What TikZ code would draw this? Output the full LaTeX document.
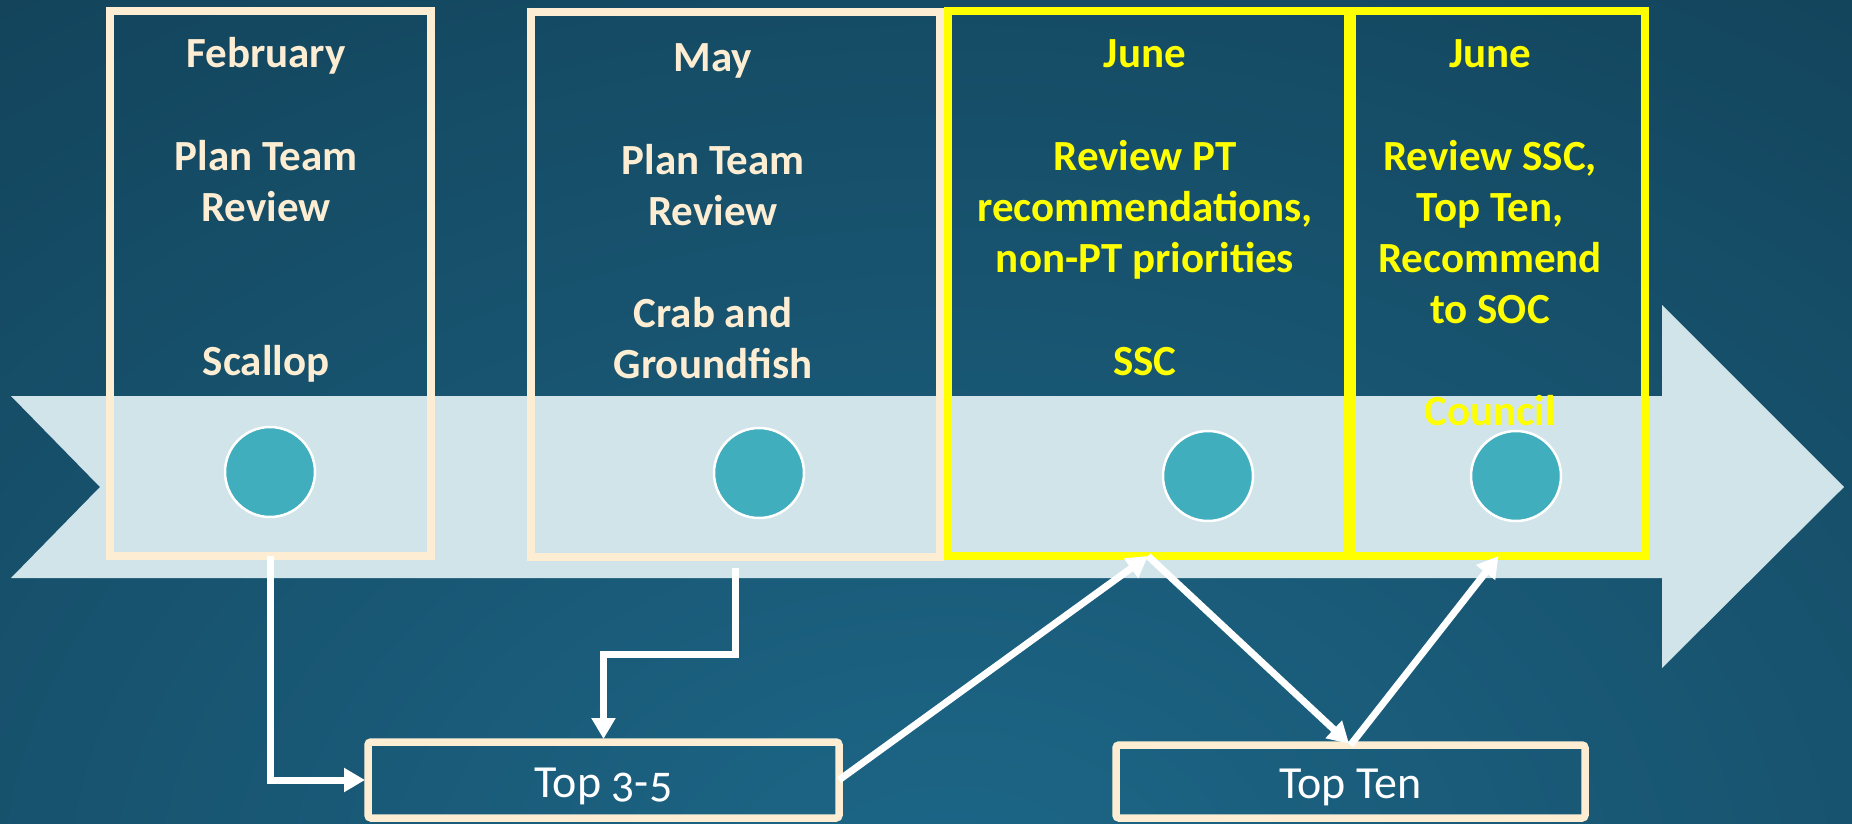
\documentclass[tikz,border=0pt]{standalone}
\usepackage{fontspec}
\setmainfont{Carlito}
\usetikzlibrary{arrows.meta}
\definecolor{cream}{HTML}{FDEDD2}
\definecolor{yel}{HTML}{FFFF00}
\definecolor{bandc}{HTML}{D0E4EA}
\definecolor{dotc}{HTML}{41AEBE}
\definecolor{bgdark}{HTML}{0E3245}
\definecolor{bglight}{HTML}{1D6788}
\begin{document}
\begin{tikzpicture}[x=1pt,y=-1pt,
  tbox/.style={draw=cream, line width=8pt, outer sep=0pt, inner sep=0pt, minimum height=545pt},
  ybox/.style={draw=yel, line width=8pt, outer sep=0pt, inner sep=0pt, minimum height=545pt},
  dot/.style={circle, fill=dotc, draw=white, line width=2.5pt, minimum size=90pt, inner sep=0pt, outer sep=0pt},
  lbl/.style={anchor=base, font=\fontsize{43}{51}\selectfont\bfseries, text=cream, inner sep=0pt},
  ylbl/.style={lbl, text=yel},
  bbox/.style={draw=cream, line width=7.5pt, rounded corners=3pt, outer sep=0pt, inner sep=0pt},
  btxt/.style={anchor=base, font=\fontsize{46}{55}\selectfont\addfontfeatures{Numbers=OldStyle}, text=white, inner sep=0pt},
  conn/.style={draw=white, line width=7pt, -{Triangle[length=21pt,width=23pt]}}
]
\useasboundingbox (0,0) rectangle (1852,824);
% background
\fill[bgdark] (0,0) rectangle (1852,824);
\begin{scope}
  \clip (0,0) rectangle (1852,824);
  \shade[inner color=bglight, outer color=bgdark] (950,900) ellipse [x radius=2400, y radius=1700];
\end{scope}
% timeline band
\fill[bandc] (11,396) -- (1662,396) -- (1662,305) -- (1844,487) -- (1662,668) -- (1662,578) -- (11,578) -- (100,487) -- cycle;

% boxes
\node[tbox, minimum width=321pt] (b1) at (270.5,283.5) {};
\node[tbox, minimum width=409pt] (b2) at (735.5,284.5) {};
\node[ybox, minimum width=400pt] (b3) at (1148,283.5) {};
\node[ybox, minimum width=293pt] (b4) at (1498.5,283.5) {};

% dots
\node[dot] (c1) at (270,472) {};
\node[dot] (c2) at (759,473) {};
\node[dot] (c3) at (1208,476) {};
\node[dot] (c4) at (1516,476) {};

% box 1 text
\node[lbl] (b1a) at (266,68) {February};
\node[lbl] (b1b) at (266,170) {Plan Team};
\node[lbl] (b1c) at (266,221) {Review};
\node[lbl] (b1d) at (266,375) {Scallop};
% box 2 text
\node[lbl] (b2a) at (713,72) {May};
\node[lbl] (b2b) at (713,174) {Plan Team};
\node[lbl] (b2c) at (713,225) {Review};
\node[lbl] (b2d) at (713,327) {Crab and};
\node[lbl] (b2e) at (713,378) {Groundfish};
% box 3 text
\node[ylbl] (b3a) at (1145,68) {June};
\node[ylbl] (b3b) at (1145,170) {Review PT};
\node[ylbl] (b3c) at (1145,221) {recommendations,};
\node[ylbl] (b3d) at (1145,272) {non-PT priorities};
\node[ylbl] (b3e) at (1145,375) {SSC};
% box 4 text
\node[ylbl] (b4a) at (1490,68) {June};
\node[ylbl] (b4b) at (1490,170) {Review SSC,};
\node[ylbl] (b4c) at (1490,221) {Top Ten,};
\node[ylbl] (b4d) at (1490,272) {Recommend};
\node[ylbl] (b4e) at (1490,323) {to SOC};
\node[ylbl] (b4f) at (1490,425) {Council};

% bottom boxes
\node[bbox, minimum width=471pt, minimum height=76pt] (t35) at (603.5,780) {};
\node[btxt] (t35l) at (603.5,797) {Top 3-5};
\node[bbox, minimum width=469pt, minimum height=73pt] (tt) at (1350.5,781.5) {};
\node[btxt] (ttl) at (1350.5,798) {Top Ten};

% connectors
\coordinate (k2) at (603.5,654);
\draw[conn, shorten >=3pt] (b1.south) |- (t35.west);
\draw[conn, shorten >=3pt] ([yshift=-11pt]b2.south) |- (k2) -- (t35.north);
\draw[conn] (t35.east) -- (b3.south);
\draw[conn, shorten >=2pt] (b3.south) -- (tt.north);
\draw[conn] (tt.north) -- (b4.south);
\end{tikzpicture}
\end{document}
